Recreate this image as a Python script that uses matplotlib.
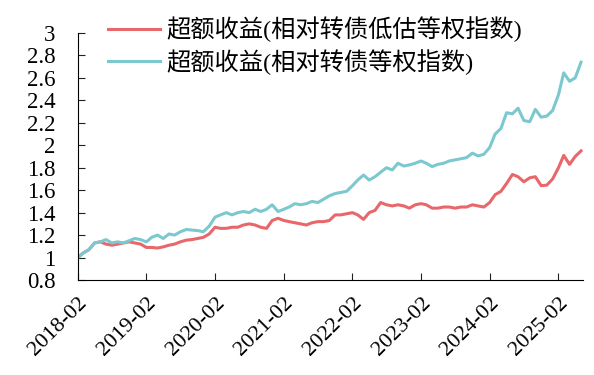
import numpy as np
import pandas as pd
import matplotlib
matplotlib.use('Agg')
import matplotlib.pyplot as plt
import matplotlib.dates as mdates

# monthly points, 2018-02 .. 2025-06
dates = pd.date_range('2018-02-01', '2025-06-01', freq='MS')

low_val = [1.00, 1.04, 1.07, 1.13, 1.14, 1.12, 1.11, 1.12, 1.13, 1.14,
           1.13, 1.12, 1.09, 1.09, 1.085, 1.095, 1.11, 1.12, 1.14, 1.155,
           1.16, 1.17, 1.18, 1.21, 1.27, 1.26, 1.26, 1.27, 1.27, 1.29,
           1.30, 1.29, 1.27, 1.26, 1.33, 1.35, 1.33, 1.32, 1.31, 1.30,
           1.29, 1.31, 1.32, 1.32, 1.33, 1.38, 1.38, 1.39, 1.40, 1.38,
           1.34, 1.40, 1.42, 1.49, 1.47, 1.46, 1.47, 1.46, 1.44, 1.47,
           1.48, 1.47, 1.44, 1.44, 1.45, 1.45, 1.44, 1.45, 1.45, 1.47,
           1.46, 1.45, 1.49, 1.56, 1.59, 1.66, 1.74, 1.72, 1.675, 1.71,
           1.72, 1.64, 1.645, 1.70, 1.80, 1.91, 1.83, 1.90, 1.95]

eq_val = [1.00, 1.04, 1.07, 1.13, 1.14, 1.16, 1.13, 1.14, 1.13, 1.15,
          1.17, 1.16, 1.14, 1.18, 1.20, 1.17, 1.21, 1.20, 1.23, 1.25,
          1.245, 1.24, 1.23, 1.28, 1.36, 1.38, 1.40, 1.38, 1.40, 1.41,
          1.40, 1.43, 1.41, 1.43, 1.47, 1.41, 1.43, 1.45, 1.48, 1.47,
          1.48, 1.50, 1.49, 1.52, 1.55, 1.57, 1.58, 1.59, 1.64, 1.69,
          1.735, 1.69, 1.72, 1.76, 1.80, 1.78, 1.84, 1.815, 1.825, 1.84,
          1.86, 1.84, 1.81, 1.83, 1.84, 1.86, 1.87, 1.88, 1.89, 1.93,
          1.905, 1.92, 1.98, 2.10, 2.15, 2.29, 2.28, 2.33, 2.22, 2.21,
          2.32, 2.25, 2.26, 2.31, 2.45, 2.645, 2.57, 2.60, 2.74]

labels = ['超额收益(相对转债低估等权指数)', '超额收益(相对转债等权指数)']
colors = ['#E8676A', '#7CC8CF']

fam = ['Liberation Serif', 'Noto Sans CJK SC']
plt.rcParams['font.family'] = fam

fig = plt.figure(figsize=(5.94, 3.75), dpi=100)
ax = fig.add_axes([0.131, 0.2533, 0.85, 0.6587])

ax.plot(dates, low_val, color=colors[0], lw=2.2, label=labels[0])
ax.plot(dates, eq_val, color=colors[1], lw=2.2, label=labels[1])

ax.set_ylim(0.8, 3.0)
ax.set_yticks(np.arange(0.8, 3.01, 0.2))
ax.set_yticklabels(['0.8', '1', '1.2', '1.4', '1.6', '1.8', '2', '2.2', '2.4', '2.6', '2.8', '3'])
ax.set_xlim(pd.Timestamp('2018-02-01'), pd.Timestamp('2025-06-10'))
ax.set_xticks(pd.date_range('2018-02-01', '2025-02-01', freq='12MS'))
ax.xaxis.set_major_formatter(mdates.DateFormatter('%Y-%m'))

for s in ['top', 'right']:
    ax.spines[s].set_visible(False)
ax.tick_params(axis='both', direction='in', length=5, color='#222222')
ax.tick_params(axis='y', pad=16, labelsize=16.5)
ax.tick_params(axis='x', pad=10, labelsize=16)
plt.setp(ax.get_xticklabels(), rotation=45, ha='right', rotation_mode='anchor')

fig.legend(loc='upper left', bbox_to_anchor=(0.145, 1.015), frameon=False,
           fontsize=17.5, handlelength=2.15, labelspacing=0.28, handletextpad=0.25)

fig.savefig('out.png', dpi=100)
